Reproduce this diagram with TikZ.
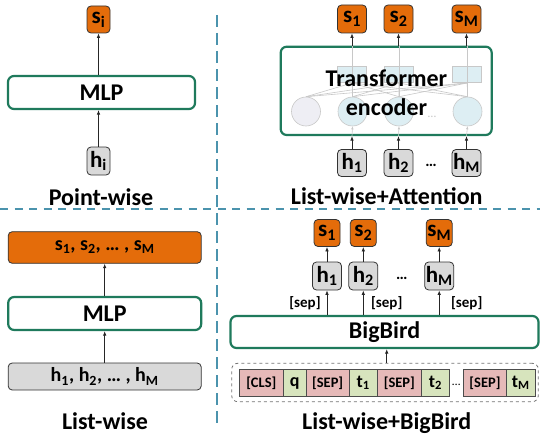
\documentclass[tikz,border=0pt]{standalone}
\usepackage{fontspec}
\setmainfont{Carlito}
\usetikzlibrary{arrows.meta}
\definecolor{orng}{HTML}{E46C0A}
\definecolor{grayfill}{HTML}{D9D9D9}
\definecolor{grn}{HTML}{1F7A5C}
\definecolor{sepc}{HTML}{4B93AD}
\definecolor{pinkc}{HTML}{E6B9B8}
\definecolor{greenc}{HTML}{D7E4BD}
\definecolor{lblue}{HTML}{DDEEF3}
\definecolor{lpurp}{HTML}{EEEEF4}
\definecolor{lgray}{HTML}{C8C8C8}
\tikzset{
  nodefont/.style={font=\bfseries\fontsize{23}{27}\selectfont},
  obox/.style={draw=black!80, fill=orng, rounded corners=4pt, line width=0.8pt, inner sep=0pt, nodefont},
  gbox/.style={draw=black!80, fill=grayfill, rounded corners=4pt, line width=0.8pt, inner sep=0pt, nodefont},
  greenbox/.style={draw=grn, fill=white, rounded corners=6pt, line width=2.2pt, inner sep=0pt, font=\bfseries\fontsize{24}{29}\selectfont},
  bigtitle/.style={font=\bfseries\fontsize{24}{29}\selectfont, inner sep=0pt, anchor=base},
  arr/.style={-{Latex[length=4.5pt,width=3.6pt]}, line width=0.8pt, black!85},
  garr/.style={-{Latex[length=3pt,width=2.6pt]}, line width=0.6pt, lgray},
  gline/.style={line width=0.6pt, lgray},
  seplab/.style={font=\bfseries\fontsize{15}{17}\selectfont, inner sep=0pt},
  tok/.style={draw=black!70, line width=0.6pt, inner sep=0pt, minimum height=27.4pt},
  tokp/.style={tok, fill=pinkc, font=\bfseries\fontsize{14.5}{16}\selectfont},
  tokg/.style={tok, fill=greenc, font=\bfseries\fontsize{18}{20}\selectfont},
  hsepline/.style={sepc, line width=1.2pt, dash pattern=on 8pt off 6.5pt},
  vsepline/.style={sepc, line width=1.2pt, dash pattern=on 12pt off 6pt},
  dots/.style={font=\bfseries\fontsize{16}{18}\selectfont, inner sep=0pt}
}
\begin{document}
\begin{tikzpicture}[x=1pt,y=-1pt]
\useasboundingbox (0,0) rectangle (540,436);
% separators
\coordinate (hl) at (0,209);
\coordinate (hr) at (540,209);
\coordinate (vt) at (217,15);
\coordinate (vb) at (217,426);
\draw[hsepline] (hl) -- (hr);
\draw[vsepline] (vt) -- (vb);

% ---------- Point-wise ----------
\node[obox, minimum width=23pt, minimum height=27pt] (si) at (98.5,19.5) {s\textsubscript{i}};
\node[greenbox, minimum width=187pt, minimum height=33pt] (mlp1) at (101.5,92.5) {MLP};
\node[gbox, minimum width=23pt, minimum height=28pt] (hi) at (98.5,161) {h\textsubscript{i}};
\draw[arr] (hi.north) -- (hi.north |- mlp1.south);
\draw[arr] (si.south |- mlp1.north) -- (si.south);
\node[bigtitle] (lab1) at (101,205) {Point-wise};

% ---------- List-wise+Attention ----------
\node[greenbox, minimum width=211pt, minimum height=88.3pt] (te) at (386.2,90.85) {};
\foreach \n/\x in {1/352.2, 2/398.8, 3/467.2}{
  \node[draw=lgray, fill=lblue, line width=0.6pt, minimum width=29pt, minimum height=16.7pt, inner sep=0pt] (r\n) at (\x,74.3) {};
}
\node[circle, draw=lgray, fill=lpurp, line width=0.6pt, minimum size=29pt, inner sep=0pt] (c0) at (306,111.5) {};
\foreach \n/\x in {1/352.5, 2/399, 3/467.5}{
  \node[circle, draw=lgray, fill=lblue, line width=0.6pt, minimum size=29pt, inner sep=0pt] (c\n) at (\x,111.5) {};
}
\foreach \a in {0,1,2,3}{
  \foreach \b in {1,2,3}{
    \draw[gline] (c\a.north) -- (r\b.south);
  }
}
\foreach \n in {1,2,3}{
  \draw[gline] (c\n.north) -- (c\n.north |- te.north);
}
\node[font=\fontsize{12}{14}\selectfont, text=lgray, inner sep=0pt] (cdots) at (432,117) {\dots};
\node[font=\bfseries\fontsize{24}{29}\selectfont, align=center, inner sep=0pt] (tetext) at (386.5,92.5) {Transformer\\encoder};

\node[obox, minimum width=29pt, minimum height=28pt] (s1) at (352,19) {s\textsubscript{1}};
\node[obox, minimum width=29pt, minimum height=28pt] (s2) at (398.5,19) {s\textsubscript{2}};
\node[obox, minimum width=29pt, minimum height=28pt] (sM) at (466.5,19) {s\textsubscript{M}};
\node[gbox, minimum width=29pt, minimum height=27pt] (h1) at (352,163) {h\textsubscript{1}};
\node[gbox, minimum width=29pt, minimum height=27pt] (h2) at (398.5,163) {h\textsubscript{2}};
\node[gbox, minimum width=29pt, minimum height=27pt] (hM) at (466.5,163) {h\textsubscript{M}};
\node[dots] (hdots) at (431,165) {\dots};
\foreach \h/\s/\c in {h1/s1/c1, h2/s2/c2, hM/sM/c3}{
  \draw[arr] (\h.north) -- (\h.north |- te.south);
  \draw[garr] (\h.north |- te.south) -- (\c.south);
  \draw[arr] (\s.south |- te.north) -- (\s.south);
}
\node[bigtitle] (lab2) at (386.7,204) {List-wise+Attention};

% ---------- List-wise ----------
\node[obox, minimum width=193pt, minimum height=31.6pt, font=\bfseries\fontsize{20}{23}\selectfont] (sbar) at (104.7,247.5) {s\textsubscript{1}, s\textsubscript{2}, … , s\textsubscript{M}};
\node[greenbox, minimum width=193pt, minimum height=33pt] (mlp2) at (104.7,313.5) {MLP};
\node[gbox, minimum width=193pt, minimum height=27pt, font=\bfseries\fontsize{20}{23}\selectfont] (hbar) at (104.7,376.5) {h\textsubscript{1}, h\textsubscript{2}, … , h\textsubscript{M}};
\draw[arr] (hbar) -- (mlp2);
\draw[arr] (mlp2) -- (sbar);
\node[bigtitle] (lab3) at (105,429) {List-wise};

% ---------- List-wise+BigBird ----------
\node[obox, minimum width=26pt, minimum height=27pt] (bs1) at (327,233) {s\textsubscript{1}};
\node[obox, minimum width=26pt, minimum height=27pt] (bs2) at (363.3,233) {s\textsubscript{2}};
\node[obox, minimum width=26pt, minimum height=27pt] (bsM) at (439.2,233) {s\textsubscript{M}};
\node[gbox, minimum width=29pt, minimum height=28pt] (bh1) at (327,276) {h\textsubscript{1}};
\node[gbox, minimum width=29pt, minimum height=28pt] (bh2) at (363.3,276) {h\textsubscript{2}};
\node[gbox, minimum width=29pt, minimum height=28pt] (bhM) at (439.2,276) {h\textsubscript{M}};
\node[dots] (bhdots) at (401.7,278) {\dots};
\node[greenbox, minimum width=308pt, minimum height=32pt] (bb) at (384.5,332) {BigBird};
\foreach \h/\s in {bh1/bs1, bh2/bs2, bhM/bsM}{
  \draw[arr] (\h.south |- bb.north) -- (\h.south);
  \draw[arr] (\h.north) -- (\s.south);
}
\node[seplab] (sl1) at (305,303) {[sep]};
\node[seplab] (sl2) at (386.7,303) {[sep]};
\node[seplab] (sl3) at (466.7,303) {[sep]};
\node[draw=black!55, dashed, line width=0.8pt, rounded corners=6pt, minimum width=306.6pt, minimum height=38.4pt, inner sep=0pt] (inbox) at (385,382.5) {};
\node[tokp, minimum width=44pt] (t1) at (261.3,383) {[CLS]};
\node[tokg, minimum width=22.7pt] (t2) at (294.65,383) {q};
\node[tokp, minimum width=43.3pt] (t3) at (327.65,383) {[SEP]};
\node[tokg, minimum width=27.7pt] (t4) at (363.15,383) {t\textsubscript{1}};
\node[tokp, minimum width=44.7pt] (t5) at (399.35,383) {[SEP]};
\node[tokg, minimum width=27.6pt] (t6) at (435.5,383) {t\textsubscript{2}};
\node[font=\fontsize{12}{14}\selectfont, inner sep=0pt] (tdots) at (456.3,385) {\dots};
\node[tokp, minimum width=43.4pt] (t7) at (485,383) {[SEP]};
\node[tokg, minimum width=28.3pt] (t8) at (520.85,383) {t\textsubscript{M}};
\draw[arr] (inbox.north -| sl2) -- (sl2 |- bb.south);
\node[bigtitle] (lab4) at (386.7,429) {List-wise+BigBird};
\end{tikzpicture}
\end{document}
